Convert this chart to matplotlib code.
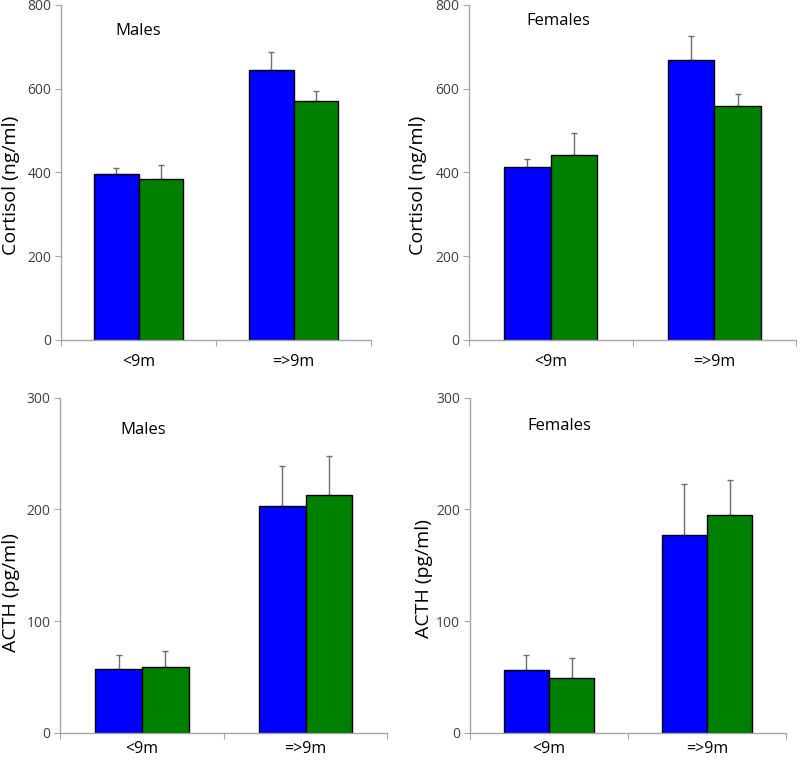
import matplotlib
matplotlib.use("Agg")
import matplotlib.pyplot as plt
import numpy as np

plt.rcParams['font.family'] = ['Open Sans', 'DejaVu Sans']

categories = ["<9m", "=>9m"]

cortisol_males_blue = [397, 645]
cortisol_males_blue_err = [14, 43]
cortisol_males_green = [384, 570]
cortisol_males_green_err = [35, 25]

cortisol_females_blue = [413, 669]
cortisol_females_blue_err = [19, 56]
cortisol_females_green = [442, 558]
cortisol_females_green_err = [52, 29]

acth_males_blue = [57, 203]
acth_males_blue_err = [13, 36]
acth_males_green = [59, 213]
acth_males_green_err = [14, 35]

acth_females_blue = [56, 177]
acth_females_blue_err = [14, 46]
acth_females_green = [49, 195]
acth_females_green_err = [18, 31]

panels = [
    dict(rect=[61/800, 1-340/761, 310/800, 335/761], blue=cortisol_males_blue, berr=cortisol_males_blue_err,
         green=cortisol_males_green, gerr=cortisol_males_green_err, ymax=800, yticks=[0, 200, 400, 600, 800],
         ylabel="Cortisol (ng/ml)", title="Males", tpos=(0.5, 738), lab=(-0.162, 0.463), pad=10),
    dict(rect=[469/800, 1-340/761, 327/800, 335/761], blue=cortisol_females_blue, berr=cortisol_females_blue_err,
         green=cortisol_females_green, gerr=cortisol_females_green_err, ymax=800, yticks=[0, 200, 400, 600, 800],
         ylabel="Cortisol (ng/ml)", title="Females", tpos=(0.545, 762), lab=(-0.157, 0.463), pad=10),
    dict(rect=[60.3/800, 1-733/761, 327/800, 335.3/761], blue=acth_males_blue, berr=acth_males_blue_err,
         green=acth_males_green, gerr=acth_males_green_err, ymax=300, yticks=[0, 100, 200, 300],
         ylabel="ACTH (pg/ml)", title="Males", tpos=(0.505, 271), lab=(-0.15, 0.42), pad=6),
    dict(rect=[470/800, 1-733/761, 316/800, 335.3/761], blue=acth_females_blue, berr=acth_females_blue_err,
         green=acth_females_green, gerr=acth_females_green_err, ymax=300, yticks=[0, 100, 200, 300],
         ylabel="ACTH (pg/ml)", title="Females", tpos=(0.563, 275), lab=(-0.147, 0.462), pad=6),
]

fig = plt.figure(figsize=(8, 7.61), dpi=100)
axis_color = "#a6a6a6"
err_color = "#6e6e6e"
text_color = "#404040"
w = 0.285

for p in panels:
    ax = fig.add_axes(p["rect"])
    x = np.array([0.5, 1.5])
    ax.bar(x - w/2, p["blue"], width=w, color="#0000ff", edgecolor="black", linewidth=1.0, zorder=2)
    ax.bar(x + w/2, p["green"], width=w, color="#008000", edgecolor="black", linewidth=1.0, zorder=2)
    ax.errorbar(x - w/2, p["blue"], yerr=[np.zeros(2), p["berr"]], fmt="none", ecolor=err_color,
                elinewidth=1.0, capsize=2.5, capthick=1.0, zorder=1)
    ax.errorbar(x + w/2, p["green"], yerr=[np.zeros(2), p["gerr"]], fmt="none", ecolor=err_color,
                elinewidth=1.0, capsize=2.5, capthick=1.0, zorder=1)
    ax.set_xlim(0, 2)
    ax.set_ylim(0, p["ymax"])
    ax.set_yticks(p["yticks"])
    ax.set_xticks([0, 1, 2])
    ax.set_xticklabels([])
    ax.set_xticks(x, minor=True)
    ax.set_xticklabels(categories, minor=True, fontsize=11.5, color="black")
    ax.tick_params(axis="x", which="minor", length=0, pad=p["pad"])
    ax.tick_params(axis="x", which="major", direction="out", length=4, color=axis_color)
    ax.tick_params(axis="y", direction="out", length=4, color=axis_color, labelsize=10, labelcolor=text_color, pad=3)
    for s in ["top", "right"]:
        ax.spines[s].set_visible(False)
    for s in ["left", "bottom"]:
        ax.spines[s].set_color(axis_color)
        ax.spines[s].set_linewidth(1.0)
    ax.set_ylabel(p["ylabel"], fontsize=14, color="black", va="center")
    ax.yaxis.set_label_coords(*p["lab"])
    ax.text(p["tpos"][0], p["tpos"][1], p["title"], ha="center", va="center", fontsize=12, color="black")

fig.savefig("out.png", dpi=100)
